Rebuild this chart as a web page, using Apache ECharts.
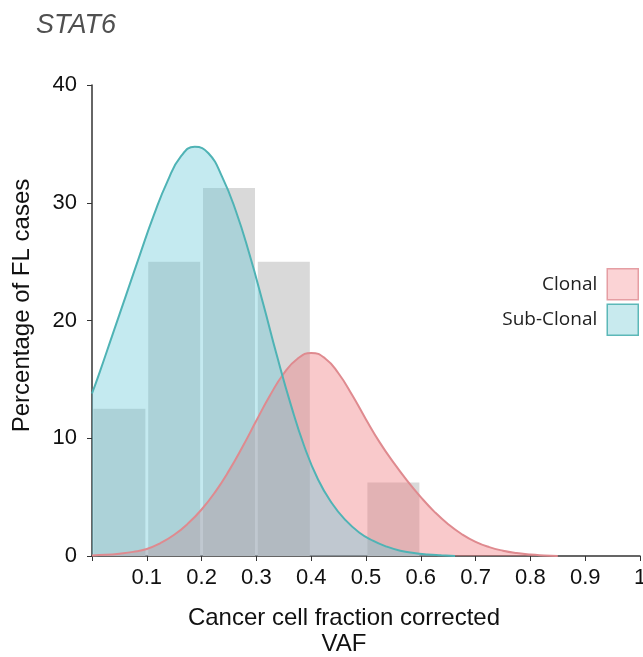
<!DOCTYPE html>
<html>
<head>
<meta charset="utf-8">
<title>STAT6</title>
<script src="https://cdn.jsdelivr.net/npm/echarts@6/dist/echarts.min.js"></script>
<style>
    html, body { margin: 0; padding: 0; background: #fff; }
    #chart { width: 643px; height: 657px; }
</style>
</head>
<body>
<div id="chart"></div>
<script>
// histogram of cases (percent per 0.1 bin)
var binCenters = [0.05, 0.15, 0.25, 0.35, 0.45, 0.55];
var binPercent = [12.5, 25, 31.25, 25, 0, 6.25];

// density curves
// sub-clonal sampled around its peak (~0.19)
var subClonalX = [0, 0.0125, 0.0375, 0.0625, 0.0875, 0.1125, 0.1375, 0.1625, 0.1875, 0.2125,
    0.2375, 0.2625, 0.2875, 0.3125, 0.3375, 0.3625, 0.3875, 0.4125, 0.4375, 0.4625,
    0.4875, 0.5125, 0.5375, 0.5625, 0.5875, 0.6125, 0.6375, 0.6625];
var subClonal = [13.8, 15.4, 18.8, 22.2, 25.6, 28.9, 31.8, 33.95, 34.75, 34.2,
    32.2, 29.3, 25.6, 21.4, 17.0, 12.9, 9.3, 6.5, 4.5, 3.05,
    2.0, 1.3, 0.8, 0.45, 0.25, 0.13, 0.06, 0];
var clonalX = [0, 0.025, 0.05, 0.075, 0.1, 0.125, 0.15, 0.175, 0.2, 0.225,
    0.25, 0.275, 0.3, 0.325, 0.35, 0.375, 0.4, 0.425, 0.45, 0.475,
    0.5, 0.525, 0.55, 0.575, 0.6, 0.625, 0.65, 0.675, 0.7, 0.725,
    0.75, 0.775, 0.8, 0.825, 0.85];
var clonal = [0.05, 0.1, 0.2, 0.35, 0.6, 1.1, 1.8, 2.75, 3.95, 5.45,
    7.25, 9.3, 11.5, 13.65, 15.5, 16.75, 17.25, 16.8, 15.5, 13.65,
    11.6, 9.65, 7.95, 6.4, 5.0, 3.75, 2.7, 1.85, 1.2, 0.75,
    0.45, 0.25, 0.12, 0.05, 0];

function pairs(xs, ys) {
    return ys.map(function (y, i) { return [xs[i], y]; });
}

var chart = echarts.init(document.getElementById("chart"));
var font = "Liberation Sans, Arial, sans-serif";

var option = {
    animation: false,
    title: {
        text: "STAT6",
        left: 31,
        top: 7,
        textStyle: {
            fontFamily: font,
            fontStyle: "italic",
            fontWeight: "normal",
            fontSize: 27,
            color: "#505050"
        }
    },
    legend: {
        orient: "vertical",
        right: 4,
        top: 268,
        padding: 0,
        align: "right",
        icon: "rect",
        itemWidth: 31,
        itemHeight: 31,
        itemGap: 3,
        textStyle: {
            fontFamily: "Open Sans, sans-serif",
            fontSize: 19,
            color: "#222",
            padding: [0, 5, 0, 0]
        },
        data: [
            {name: "Clonal", itemStyle: {color: "#fbd3d5", borderColor: "#e59ea3", borderWidth: 1.5}},
            {name: "Sub-Clonal", itemStyle: {color: "#c8eaee", borderColor: "#5cb8b8", borderWidth: 1.5}}
        ]
    },
    grid: {
        left: 92,
        right: 3,
        top: 85,
        bottom: 101,
        containLabel: false,
        outerBoundsMode: "none"
    },
    xAxis: {
        type: "value",
        min: 0,
        max: 1,
        interval: 0.1,
        name: "Cancer cell fraction corrected\nVAF",
        nameLocation: "middle",
        nameGap: 49,
        nameMoveOverlap: false,
        nameTextStyle: {
            fontFamily: font,
            fontSize: 24,
            lineHeight: 26,
            color: "#111",
            padding: [0, 44, 0, 0]
        },
        splitLine: {show: false},
        axisLine: {lineStyle: {color: "#333", width: 1.5}},
        axisTick: {length: 5, lineStyle: {color: "#333"}},
        axisLabel: {
            margin: 11,
            fontFamily: font,
            fontSize: 22,
            color: "#111",
            formatter: function (v) {
                if (v < 0.05) return "";
                if (Math.abs(v - 1) < 1e-9) return "1";
                return v.toFixed(1);
            }
        }
    },
    yAxis: {
        type: "value",
        min: 0,
        max: 40,
        interval: 10,
        name: "Percentage of FL cases",
        nameLocation: "middle",
        nameGap: 58,
        nameMoveOverlap: false,
        nameTextStyle: {
            fontFamily: font,
            fontSize: 24,
            color: "#111",
            padding: [0, 0, 0, 30]
        },
        splitLine: {show: false},
        axisLine: {show: true, lineStyle: {color: "#333", width: 1.5}},
        axisTick: {show: true, length: 5, lineStyle: {color: "#333"}},
        axisLabel: {
            margin: 15,
            fontFamily: font,
            fontSize: 22,
            color: "#111"
        }
    },
    series: [
        {
            name: "cases",
            type: "bar",
            barWidth: 52,
            data: pairs(binCenters, binPercent),
            itemStyle: {color: "#d9d9d9"},
            silent: true
        },
        {
            name: "Clonal",
            type: "line",
            smooth: true,
            showSymbol: false,
            data: pairs(clonalX, clonal),
            lineStyle: {color: "#df8a8f", width: 2},
            itemStyle: {color: "#fbd3d5"},
            areaStyle: {color: "rgba(240,120,125,0.4)", opacity: 1}
        },
        {
            name: "Sub-Clonal",
            type: "line",
            smooth: true,
            showSymbol: false,
            data: pairs(subClonalX, subClonal),
            lineStyle: {color: "#4fb3b5", width: 2},
            itemStyle: {color: "#c8eaee"},
            areaStyle: {color: "rgba(100,200,215,0.38)", opacity: 1}
        }
    ]
};
chart.setOption(option);
</script>
</body>
</html>
